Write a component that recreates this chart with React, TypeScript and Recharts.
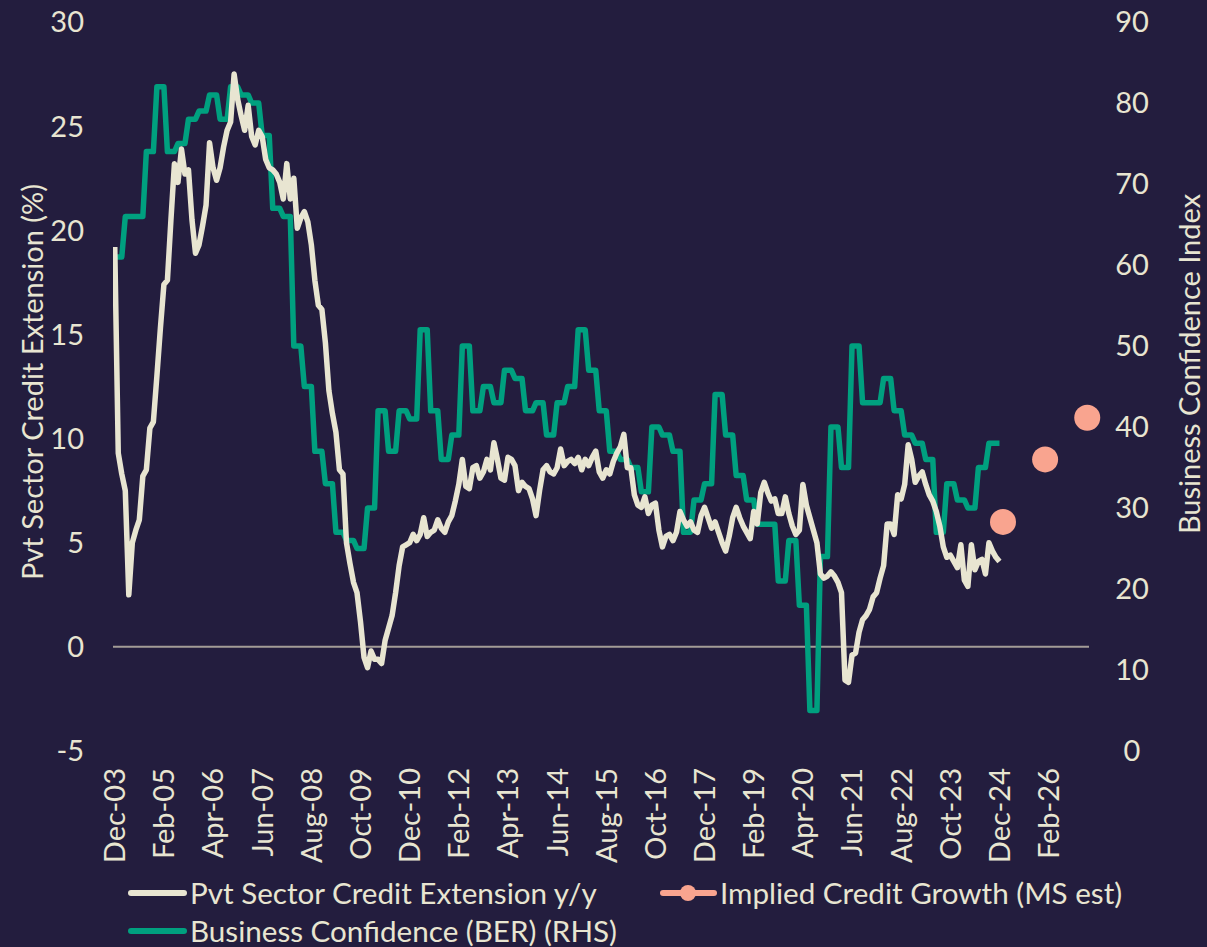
import React from 'react';
import { ComposedChart, Line, XAxis, YAxis, ReferenceLine } from 'recharts';

// ---------- data ----------
const xTickLabels = ['Dec-03','Feb-05','Apr-06','Jun-07','Aug-08','Oct-09','Dec-10','Feb-12','Apr-13','Jun-14','Aug-15','Oct-16','Dec-17','Feb-19','Apr-20','Jun-21','Aug-22','Oct-23','Dec-24','Feb-26'];
const monthsPerTick = 14;
const totalMonths = 278; // Dec-03 .. Jan-27

// Pvt Sector Credit Extension y/y (%), monthly Dec-03 .. Dec-24
const creditGrowth = [
  19.2, 9.3, 8.3, 7.5, 2.5, 5.0, 5.6, 6.1, 8.2, 8.5, 10.5, 10.8, 13.0, 15.3, 17.4, 17.6, 20.5, 23.2, 22.3, 23.9,
  22.7, 22.9, 20.5, 18.9, 19.3, 20.2, 21.2, 24.2, 23.0, 22.4, 23.0, 24.0, 24.8, 25.2, 27.5, 26.3, 25.5, 24.8, 26.0, 24.5,
  24.1, 24.8, 24.5, 23.4, 23.0, 22.9, 22.7, 22.3, 21.5, 23.2, 21.5, 22.5, 20.1, 20.6, 20.9, 20.4, 19.3, 17.6, 16.4, 16.2,
  14.6, 12.3, 11.2, 10.3, 8.5, 8.3, 5.0, 4.0, 3.1, 2.6, 1.2, -0.5, -1.0, -0.2, -0.6, -0.6, -0.8, 0.3, 0.9, 1.5,
  2.6, 3.9, 4.8, 4.9, 5.0, 5.4, 5.1, 5.4, 6.2, 5.3, 5.5, 5.6, 6.1, 5.7, 5.5, 6.0, 6.3, 7.0, 7.8, 9.0,
  7.7, 7.6, 8.6, 8.7, 8.1, 8.4, 9.0, 8.5, 9.8, 9.0, 8.1, 8.0, 9.1, 9.0, 8.7, 7.5, 7.9, 7.7, 7.6, 7.1,
  6.3, 7.5, 8.5, 8.7, 8.4, 8.3, 8.6, 9.5, 8.7, 8.9, 9.0, 8.8, 9.1, 8.5, 9.0, 8.7, 9.1, 9.4, 8.4, 8.1,
  8.5, 8.3, 8.9, 9.3, 9.6, 10.2, 8.6, 8.6, 7.3, 6.8, 6.7, 7.2, 6.4, 6.8, 6.9, 5.6, 4.8, 5.3, 5.4, 5.1,
  5.5, 6.5, 6.1, 5.8, 6.0, 5.6, 5.5, 6.3, 6.7, 6.2, 5.7, 6.0, 5.5, 5.0, 4.6, 5.3, 6.2, 6.7, 6.2, 5.8,
  5.5, 5.2, 6.5, 5.9, 7.4, 7.9, 7.4, 7.0, 7.1, 6.4, 6.4, 7.2, 6.4, 5.8, 5.4, 5.6, 7.8, 6.8, 6.2, 5.6,
  5.0, 3.5, 3.3, 3.4, 3.6, 3.4, 3.1, 2.6, -1.6, -1.7, -0.4, -0.3, 0.7, 1.3, 1.5, 1.8, 2.4, 2.6, 3.3, 3.9,
  5.9, 5.9, 5.4, 7.3, 7.1, 7.8, 9.7, 9.0, 7.9, 8.2, 8.4, 7.8, 7.3, 7.0, 6.5, 5.8, 4.8, 4.3, 4.4, 4.1,
  3.8, 4.9, 3.2, 2.9, 4.9, 3.7, 4.1, 4.2, 3.5, 5.0, 4.6, 4.3, 4.1,
];

// Business Confidence (BER), quarterly survey shown per month, Dec-03 .. Dec-24
const businessConfidence = [
  61, 61, 61, 66, 66, 66, 66, 66, 66, 74, 74, 74, 82, 82, 82, 74, 74, 74, 75, 75, 75,
  78, 78, 78, 79, 79, 79, 81, 81, 81, 78, 78, 78, 82, 82, 82, 81, 81, 81, 80, 80, 80,
  76, 76, 76, 67, 67, 67, 66, 66, 66, 50, 50, 50, 45, 45, 45, 37, 37, 37, 33, 33, 33,
  27, 27, 27, 26, 26, 26, 25, 25, 25, 30, 30, 30, 42, 42, 42, 37, 37, 37, 42, 42, 42,
  41, 41, 41, 52, 52, 52, 42, 42, 42, 36, 36, 36, 39, 39, 39, 50, 50, 50, 42, 42, 42,
  45, 45, 45, 43, 43, 43, 47, 47, 47, 46, 46, 46, 42, 42, 42, 43, 43, 43, 39, 39, 39,
  43, 43, 43, 45, 45, 45, 52, 52, 52, 47, 47, 47, 42, 42, 42, 37, 37, 37, 36, 36, 36,
  35, 35, 35, 32, 32, 32, 40, 40, 40, 39, 39, 39, 37, 37, 37, 27, 27, 27, 31, 31, 31,
  33, 33, 33, 44, 44, 44, 39, 39, 39, 34, 34, 34, 31, 31, 31, 28, 28, 28, 28, 28, 28,
  21, 21, 21, 26, 26, 26, 18, 18, 18, 5, 5, 5, 24, 24, 24, 40, 40, 40, 35, 35, 35,
  50, 50, 50, 43, 43, 43, 43, 43, 43, 46, 46, 46, 42, 42, 42, 39, 39, 39, 38, 38, 38,
  36, 36, 36, 27, 27, 27, 33, 33, 33, 31, 31, 31, 30, 30, 30, 35, 35, 35, 38, 38, 38,
  38,
];

// Implied Credit Growth (MS est): month index and value
const impliedMonths = [253, 265, 277];
const impliedGrowth = [6, 9, 11];

const leftTicks = [-5, 0, 5, 10, 15, 20, 25, 30];
const rightTicks = [0, 10, 20, 30, 40, 50, 60, 70, 80, 90];

const legendLabels = ['Pvt Sector Credit Extension y/y', 'Implied Credit Growth (MS est)', 'Business Confidence (BER) (RHS)'];

// ---------- table ----------
const tableData = Array.from({ length: totalMonths }, (_, i) => {
  const k = impliedMonths.indexOf(i);
  return {
    m: i,
    credit: i < creditGrowth.length ? creditGrowth[i] : null,
    ber: i < businessConfidence.length ? businessConfidence[i] : null,
    implied: k >= 0 ? impliedGrowth[k] : null,
  };
});
const xTicks = xTickLabels.map((_, k) => k * monthsPerTick);

// ---------- style ----------
const W = 1207;
const H = 947;
const BG = '#231d3e';
const CREAM = '#e8e5d1';
const GREEN = '#00a07f';
const PINK = '#f9a48f';
const ZERO = '#a39c97';
const FONT = 'Lato, "Open Sans", sans-serif';
const FS = 29;
const LFS = 29.6;

const LeftTick = (props: any) => {
  const { y, payload } = props;
  return (
    <text x={84} y={y} dy="0.36em" textAnchor="end" fill={CREAM} fontFamily={FONT} fontSize={FS}>
      {payload.value}
    </text>
  );
};

const RightTick = (props: any) => {
  const { y, payload } = props;
  return (
    <text x={1132} y={y} dy="0.36em" textAnchor="middle" fill={CREAM} fontFamily={FONT} fontSize={FS}>
      {payload.value}
    </text>
  );
};

const BottomTick = (props: any) => {
  const { x, payload } = props;
  const idx = Math.round(payload.value / monthsPerTick);
  const y0 = 768;
  return (
    <text
      x={x}
      y={y0}
      dy="0.36em"
      textAnchor="end"
      transform={`rotate(-90, ${x}, ${y0})`}
      fill={CREAM}
      fontFamily={FONT}
      fontSize={FS}
    >
      {xTickLabels[idx]}
    </text>
  );
};

const LegendOverlay = () => (
  <svg width={W} height={H} style={{ position: 'absolute', left: 0, top: 0, pointerEvents: 'none' }}>
    <g fontFamily={FONT} fill={CREAM}>
      <line x1={131} x2={184} y1={893} y2={893} stroke={CREAM} strokeWidth={6} strokeLinecap="round" />
      <text x={190} y={893} dy="0.36em" fontSize={LFS}>{legendLabels[0]}</text>
      <line x1={663} x2={714} y1={893} y2={893} stroke={PINK} strokeWidth={6} strokeLinecap="round" />
      <circle cx={688} cy={893} r={8} fill={PINK} />
      <text x={720} y={893} dy="0.36em" fontSize={LFS}>{legendLabels[1]}</text>
      <line x1={131} x2={184} y1={931} y2={931} stroke={GREEN} strokeWidth={6} strokeLinecap="round" />
      <text x={190} y={931} dy="0.36em" fontSize={LFS}>{legendLabels[2]}</text>
      <text
        x={33}
        y={382}
        dy="0.36em"
        textAnchor="middle"
        fontSize={FS}
        transform="rotate(-90, 33, 382)"
      >
        Pvt Sector Credit Extension (%)
      </text>
      <text
        x={1190}
        y={364}
        dy="0.36em"
        textAnchor="middle"
        fontSize={FS}
        transform="rotate(-90, 1190, 364)"
      >
        Business Confidence Index
      </text>
    </g>
  </svg>
);

export default function App() {
  return (
    <div style={{ position: 'absolute', left: 0, top: 0, width: W, height: H, background: BG, overflow: 'hidden' }}>
      <ComposedChart
        width={W}
        height={H}
        data={tableData}
        margin={{ top: 22, right: 38, bottom: 76, left: 33 }}
      >
        <XAxis
          dataKey="m"
          type="number"
          domain={[-0.5, 277.5]}
          ticks={xTicks}
          interval={0}
          axisLine={false}
          tickLine={false}
          height={120}
          tick={<BottomTick />}
          allowDataOverflow
        />
        <YAxis
          yAxisId="left"
          orientation="left"
          domain={[-5, 30]}
          ticks={leftTicks}
          interval={0}
          axisLine={false}
          tickLine={false}
          width={80}
          tick={<LeftTick />}
          allowDataOverflow
        />
        <YAxis
          yAxisId="right"
          orientation="right"
          domain={[0, 90]}
          ticks={rightTicks}
          interval={0}
          axisLine={false}
          tickLine={false}
          width={80}
          tick={<RightTick />}
          allowDataOverflow
        />
        <ReferenceLine yAxisId="left" y={0} stroke={ZERO} strokeWidth={2} />
        <Line
          yAxisId="right"
          dataKey="ber"
          type="linear"
          stroke={GREEN}
          strokeWidth={5.5}
          strokeLinejoin="round"
          dot={false}
          activeDot={false}
          isAnimationActive={false}
        />
        <Line
          yAxisId="left"
          dataKey="credit"
          type="linear"
          stroke={CREAM}
          strokeWidth={5.5}
          strokeLinejoin="round"
          dot={false}
          activeDot={false}
          isAnimationActive={false}
        />
        <Line
          yAxisId="left"
          dataKey="implied"
          type="linear"
          stroke="none"
          dot={{ r: 13, fill: PINK, stroke: 'none', clipDot: false }}
          activeDot={false}
          isAnimationActive={false}
        />
      </ComposedChart>
      <LegendOverlay />
    </div>
  );
}
